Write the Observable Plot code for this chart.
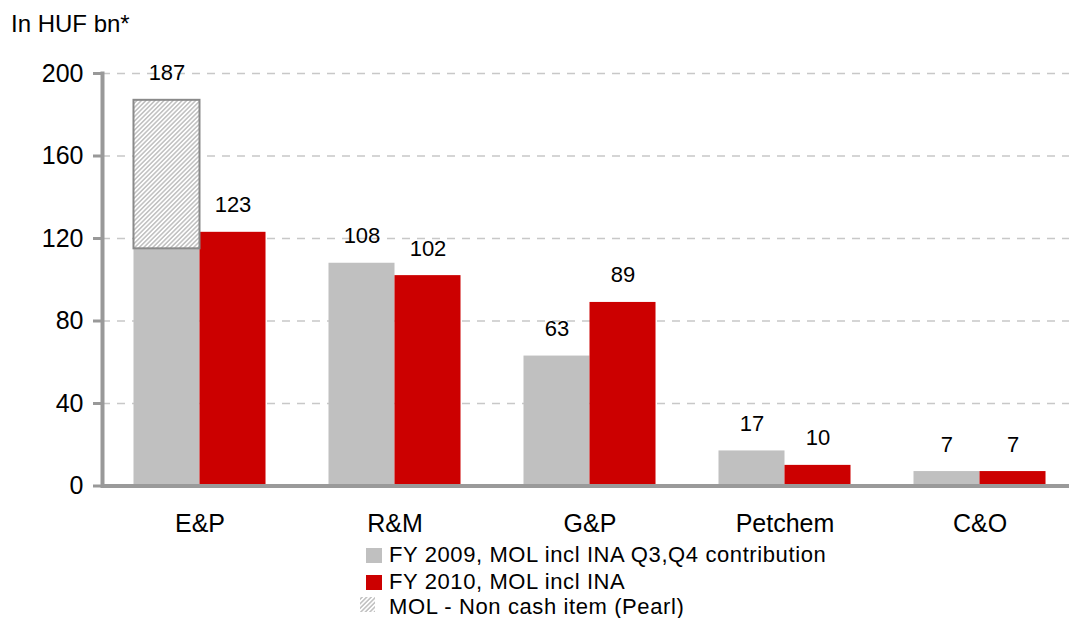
<!DOCTYPE html>
<html><head><meta charset="utf-8">
<script src="https://cdn.jsdelivr.net/npm/d3@7"></script>
<script src="https://cdn.jsdelivr.net/npm/@observablehq/plot@0.6"></script>
<style>
body{margin:0;background:#fff;font-family:"Liberation Sans",Arial,sans-serif;overflow:hidden;width:1069px;height:618px;color:#000}
#title{height:36px;box-sizing:border-box;padding:11.7px 0 0 11px;font-size:24px;line-height:24px;white-space:nowrap}
#chart svg{display:block}
#legend{position:relative;height:78px;font-size:22px;line-height:22px;letter-spacing:0.6px}
.row{position:absolute;left:0;height:22px;width:1069px;white-space:nowrap}
.sw{position:absolute;display:block}
.lt{position:absolute;left:389px;top:0}
</style>
</head><body>
<svg width="0" height="0" style="position:absolute"><defs>
<pattern id="hatch" patternUnits="userSpaceOnUse" width="3.2" height="3.2" patternTransform="rotate(45)">
<rect width="3.2" height="3.2" fill="#fff"/><line x1="1.6" y1="0" x2="1.6" y2="3.2" stroke="#bfbfbf" stroke-width="1.5"/>
</pattern></defs></svg>
<div id="title"></div>
<div id="chart"></div>
<div id="legend"></div>
<script>
const titleText = "In HUF bn*";
const categories = ["E&P", "R&M", "G&P", "Petchem", "C&O"];
const seriesKeys = ["2009", "2010"];
const seriesLabels = ["FY 2009, MOL incl INA Q3,Q4 contribution", "FY 2010, MOL incl INA"];
const nonCashLabel = "MOL - Non cash item (Pearl)";
const fy2009 = [187, 108, 63, 17, 7];
const fy2009NonCash = [72, 0, 0, 0, 0];
const fy2010 = [123, 102, 89, 10, 7];
const yTicks = [0, 40, 80, 120, 160, 200];
const colors = ["#c0c0c0", "#cc0000"];

const bars = categories.flatMap((c, i) => [
  {cat: c, s: seriesKeys[0], y1: 0, y2: fy2009[i] - fy2009NonCash[i], total: fy2009[i]},
  {cat: c, s: seriesKeys[1], y1: 0, y2: fy2010[i], total: fy2010[i]}
]);
const hatched = categories
  .map((c, i) => ({cat: c, s: seriesKeys[0], y1: fy2009[i] - fy2009NonCash[i], y2: fy2009[i]}))
  .filter(d => d.y2 > d.y1);

document.getElementById("title").textContent = titleText;

const chart = Plot.plot({
  width: 1069, height: 504,
  marginTop: 37, marginBottom: 54.5, marginLeft: 102, marginRight: -8,
  style: {fontFamily: '"Liberation Sans", Arial, sans-serif', fontSize: "24px", color: "#000", background: "transparent", overflow: "visible"},
  fx: {domain: categories, padding: 0, label: null},
  x: {domain: seriesKeys, paddingInner: 0, paddingOuter: 0.477, axis: null, round: false},
  y: {domain: [0, 200], label: null},
  color: {domain: seriesKeys, range: colors},
  marks: [
    Plot.gridY(yTicks, {stroke: "#c8c8c8", strokeOpacity: 1, strokeWidth: 1.5, strokeDasharray: "8,7"}),
    Plot.barY(bars, {fx: "cat", x: "s", y1: "y1", y2: "y2", fill: "s"}),
    Plot.barY(hatched, {fx: "cat", x: "s", y1: "y1", y2: "y2", fill: "url(#hatch)", stroke: "#8a8a8a", strokeWidth: 2}),
    Plot.text(bars, {fx: "cat", x: "s", y: "total", text: d => String(d.total), dy: -20, lineAnchor: "bottom", fontSize: 22, fill: "#000"}),
    Plot.ruleY([0], {stroke: "#9a9a9a", strokeWidth: 4}),
    Plot.frame({anchor: "left", facetAnchor: "left", stroke: "#999", strokeWidth: 4}),
    Plot.axisY(yTicks, {anchor: "left", tickSize: 9, tickPadding: 10, fontSize: 25, stroke: "#999", strokeWidth: 3, fill: "#000", label: null}),
    Plot.axisFx({anchor: "bottom", tickSize: 0, tickPadding: 28, fontSize: 25, label: null})
  ]
});
document.getElementById("chart").append(chart);

const legend = document.getElementById("legend");
const rowTops = [4.4, 31.4, 56.4];
seriesLabels.forEach((lab, i) => {
  const row = document.createElement("div");
  row.className = "row";
  row.style.top = rowTops[i] + "px";
  const sw = document.createElement("span");
  sw.className = "sw";
  Object.assign(sw.style, {left: "366px", top: "3.6px", width: "16px", height: "15px", background: colors[i]});
  const t = document.createElement("span");
  t.className = "lt";
  t.textContent = lab;
  row.append(sw, t);
  legend.append(row);
});
{
  const row = document.createElement("div");
  row.className = "row";
  row.style.top = rowTops[2] + "px";
  const sw = document.createElementNS("http://www.w3.org/2000/svg", "svg");
  sw.setAttribute("class", "sw");
  sw.setAttribute("width", 15); sw.setAttribute("height", 15);
  Object.assign(sw.style, {left: "360px", top: "0.6px"});
  const r = document.createElementNS("http://www.w3.org/2000/svg", "rect");
  r.setAttribute("width", 15); r.setAttribute("height", 15); r.setAttribute("fill", "url(#hatch)");
  sw.append(r);
  const t = document.createElement("span");
  t.className = "lt";
  t.textContent = nonCashLabel;
  row.append(sw, t);
  legend.append(row);
}
</script>
</body></html>
